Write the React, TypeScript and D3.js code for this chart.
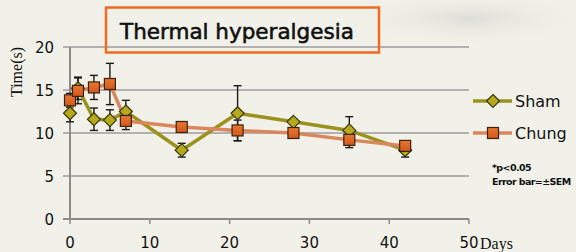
import React from "react";
import * as d3 from "d3";

const days = [0, 1, 3, 5, 7, 14, 21, 28, 35, 42];
const shamValues = [12.3, 15.2, 11.6, 11.5, 12.5, 8.0, 12.3, 11.3, 10.3, 8.0];
const shamErrors = [1.0, 1.3, 1.3, 1.2, 1.3, 0.8, 3.2, 0.3, 1.6, 0.8];
const chungValues = [13.8, 14.9, 15.3, 15.7, 11.4, 10.7, 10.3, 10.0, 9.2, 8.5];
const chungErrors = [0.8, 1.5, 1.4, 2.4, 1.0, 0.6, 1.2, 0.4, 0.9, 0.6];
const xTicks = [0, 10, 20, 30, 40, 50];
const yTicks = [0, 5, 10, 15, 20];

const W = 576;
const H = 252;
const SHAM_LINE = "#9a921c";
const SHAM_FILL = "#b5aa1c";
const CHUNG_LINE = "#d9875c";
const CHUNG_FILL = "#d4581c";
const AXIS = "#8a8a8a";
const SANS = "'DejaVu Sans', Verdana, sans-serif";
const SERIF = "'Liberation Serif', 'Times New Roman', serif";

type Pt = { day: number; value: number; err: number };

function zip(vals: number[], errs: number[]): Pt[] {
  return days.map((d, i) => ({ day: d, value: vals[i], err: errs[i] }));
}

export default function App() {
  const x = d3.scaleLinear().domain([0, 50]).range([70, 469]);
  const y = d3.scaleLinear().domain([0, 20]).range([219, 47]);

  const sham = zip(shamValues, shamErrors);
  const chung = zip(chungValues, chungErrors);

  const line = d3
    .line<Pt>()
    .x((d) => x(d.day))
    .y((d) => y(d.value));

  const errorBars = (data: Pt[], key: string) =>
    data.map((d, i) => (
      <g key={key + i} stroke="#1a1a1a" strokeWidth={1.4}>
        <line x1={x(d.day)} x2={x(d.day)} y1={y(d.value + d.err)} y2={y(d.value - d.err)} />
        <line x1={x(d.day) - 4} x2={x(d.day) + 4} y1={y(d.value + d.err)} y2={y(d.value + d.err)} />
        <line x1={x(d.day) - 4} x2={x(d.day) + 4} y1={y(d.value - d.err)} y2={y(d.value - d.err)} />
      </g>
    ));

  const diamond = (cx: number, cy: number, key: string) => (
    <path
      key={key}
      d={`M${cx},${cy - 6.5}L${cx + 6.5},${cy}L${cx},${cy + 6.5}L${cx - 6.5},${cy}Z`}
      fill={SHAM_FILL}
      stroke="#3a3510"
      strokeWidth={1.2}
    />
  );

  const square = (cx: number, cy: number, key: string) => (
    <rect
      key={key}
      x={cx - 5.5}
      y={cy - 5.5}
      width={11}
      height={11}
      fill="url(#sqgrad)"
      stroke="#3a2210"
      strokeWidth={1.2}
    />
  );

  return (
    <div style={{ position: "fixed", left: 0, top: 0 }}>
      <svg width={W} height={H} style={{ display: "block" }}>
        <defs>
          <radialGradient id="smudge" cx="0.5" cy="0.5" r="0.5">
            <stop offset="0%" stopColor="#d9d9d4" stopOpacity={0.8} />
            <stop offset="100%" stopColor="#efeee6" stopOpacity={0} />
          </radialGradient>
          <linearGradient id="sqgrad" x1="0" y1="0" x2="0" y2="1">
            <stop offset="0%" stopColor="#e8772e" />
            <stop offset="100%" stopColor={CHUNG_FILL} />
          </linearGradient>
        </defs>
        <rect width={W} height={H} fill="#f2f1e9" />
        <ellipse cx={470} cy={18} rx={130} ry={28} fill="url(#smudge)" />

        {/* grid */}
        {yTicks.slice(1).map((t) => (
          <line key={"g" + t} x1={63} x2={469} y1={y(t)} y2={y(t)} stroke="#9b9b9b" strokeWidth={1.5} />
        ))}

        {/* title box (transparent, grid shows through) */}
        <rect x={106} y={7.5} width={273} height={45} fill="none" stroke="#f26a1f" strokeWidth={2.5} />
        <text x={120} y={39} fontFamily={SANS} fontSize={21.5} fill="#111" stroke="#111" strokeWidth={0.6}>
          Thermal hyperalgesia
        </text>

        {/* axes */}
        <line x1={70} x2={70} y1={y(20)} y2={y(0)} stroke={AXIS} strokeWidth={2} />
        <line x1={63} x2={469} y1={y(0)} y2={y(0)} stroke={AXIS} strokeWidth={2} />
        {xTicks.map((t) => (
          <g key={"x" + t}>
            <line x1={x(t)} x2={x(t)} y1={y(0)} y2={y(0) + 5} stroke={AXIS} strokeWidth={1.5} />
            <text x={x(t)} y={248} textAnchor="middle" fontFamily={SANS} fontSize={15} fill="#111">
              {t}
            </text>
          </g>
        ))}
        {yTicks.map((t) => (
          <text key={"y" + t} x={54} y={y(t) + 5.5} textAnchor="end" fontFamily={SANS} fontSize={15} fill="#111">
            {t}
          </text>
        ))}
        <text x={480} y={249} fontFamily={SERIF} fontSize={16} fill="#111">
          Days
        </text>
        <text transform="translate(22,72) rotate(-90)" textAnchor="middle" fontFamily={SERIF} fontSize={16} fill="#111">
          Time(s)
        </text>

        {/* series */}
        {errorBars(sham, "se")}
        {errorBars(chung, "ce")}
        <path d={line(sham) ?? ""} fill="none" stroke={SHAM_LINE} strokeWidth={3.5} strokeLinejoin="round" />
        <path d={line(chung) ?? ""} fill="none" stroke={CHUNG_LINE} strokeWidth={3.5} strokeLinejoin="round" />
        {sham.map((d, i) => diamond(x(d.day), y(d.value), "sd" + i))}
        {chung.map((d, i) => square(x(d.day), y(d.value), "cs" + i))}

        {/* legend */}
        <line x1={473} x2={512} y1={101} y2={101} stroke={SHAM_LINE} strokeWidth={3.5} />
        {diamond(493, 101, "ld")}
        <text x={515} y={107} fontFamily={SANS} fontSize={16} fill="#111">
          Sham
        </text>
        <line x1={473} x2={512} y1={133} y2={133} stroke={CHUNG_LINE} strokeWidth={3.5} />
        {square(493, 133, "ls")}
        <text x={515} y={139} fontFamily={SANS} fontSize={16} fill="#111">
          Chung
        </text>

        <text x={492} y={171} fontFamily={SANS} fontSize={9.5} fontWeight="bold" fill="#111" letterSpacing={-0.6}>
          *p&lt;0.05
        </text>
        <text x={492} y={185} fontFamily={SANS} fontSize={9.5} fontWeight="bold" fill="#111" letterSpacing={-0.6}>
          Error bar=±SEM
        </text>
      </svg>
    </div>
  );
}
